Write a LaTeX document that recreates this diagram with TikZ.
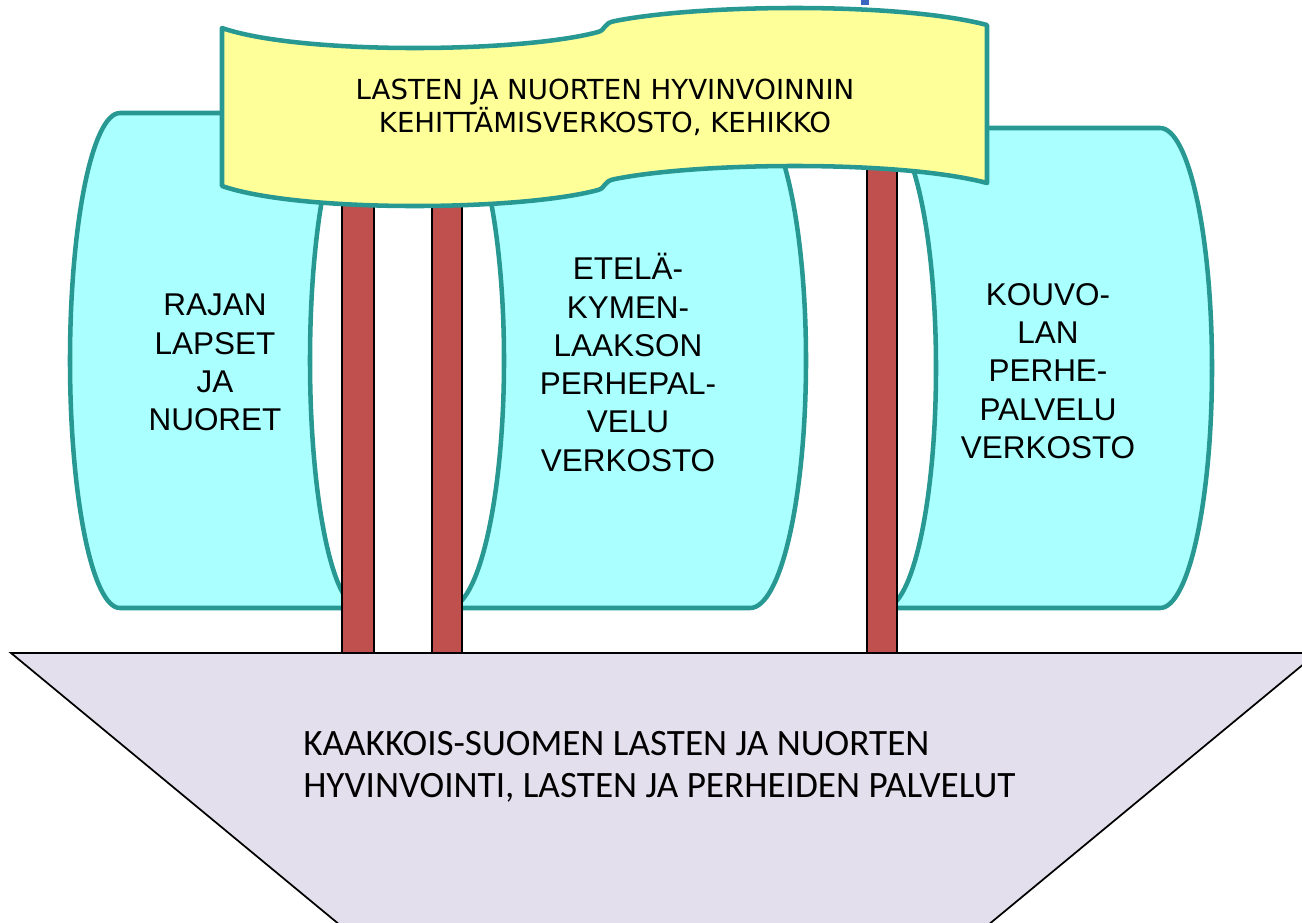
\documentclass[tikz,border=0pt]{standalone}
\usepackage{fontspec}
\setmainfont{Liberation Sans}
\newfontfamily\bannerfont{DejaVu Sans}
\newfontfamily\basefont{Carlito}
\definecolor{tealline}{RGB}{40,152,146}
\definecolor{cyanfill}{RGB}{170,255,255}
\definecolor{bannerfill}{RGB}{255,255,153}
\definecolor{barfill}{RGB}{192,80,77}
\definecolor{basefill}{RGB}{227,223,236}
\definecolor{markblue}{RGB}{58,102,192}
\tikzset{
  drum/.style={draw=tealline, fill=cyanfill, line width=3.4pt, line join=round},
  pillar/.style={draw=black, fill=barfill, line width=1.3pt},
  basebox/.style={draw=black, fill=basefill, line width=1.3pt},
  bannerbox/.style={draw=tealline, fill=bannerfill, line width=3.4pt, line join=round},
  drumtext/.style={align=center, font=\fontsize{23.6}{28.7}\selectfont, inner sep=0pt},
  bannertext/.style={align=center, font=\bannerfont\fontsize{20.7}{24.8}\selectfont, inner sep=0pt},
  basetext/.style={align=left, anchor=west, font=\basefont\fontsize{27.9}{31.6}\selectfont, inner sep=0pt}
}
\begin{document}
\begin{tikzpicture}[x=0.75pt,y=-0.75pt]
\useasboundingbox (0,0) rectangle (1302,922);
\clip (0,0) rectangle (1302,922);
% title fragment
\fill[markblue] (861,0) rectangle (869,5);
% drum 1 (convex left, concave right)
\path[drum] (120,113) -- (360,113)
  .. controls (332.4,113) and (310,223.8) .. (310,360.5)
  .. controls (310,497.2) and (332.4,608) .. (360,608)
  -- (120,608)
  .. controls (92.4,608) and (70,497.2) .. (70,360.5)
  .. controls (70,223.8) and (92.4,113) .. (120,113) -- cycle;
% drum 2 (concave left, convex right)
\path[drum] (448,113) -- (750,113)
  .. controls (780.9,113) and (806,223.8) .. (806,360.5)
  .. controls (806,497.2) and (780.9,608) .. (750,608)
  -- (448,608)
  .. controls (478.9,608) and (504,497.2) .. (504,360.5)
  .. controls (504,223.8) and (478.9,113) .. (448,113) -- cycle;
% drum 3
\path[drum] (884,128) -- (1160,128)
  .. controls (1188.7,128) and (1212,235.4) .. (1212,368)
  .. controls (1212,500.6) and (1188.7,608) .. (1160,608)
  -- (884,608)
  .. controls (912.7,608) and (936,500.6) .. (936,368)
  .. controls (936,235.4) and (912.7,128) .. (884,128) -- cycle;
% pillars
\path[pillar] (342,120) rectangle (374,653);
\path[pillar] (432,120) rectangle (462,653);
\path[pillar] (867,120) rectangle (897,653);
% base
\path[basebox] (11,653) -- (1317,653) -- (664,1193) -- cycle;
% banner
\path[bannerbox] (222,28)
  .. controls (300,55) and (520,53) .. (598,32)
  .. controls (606,30) and (603,23) .. (615,21)
  .. controls (700,4) and (900,2) .. (987,25)
  -- (987,183)
  .. controls (900,160) and (700,162) .. (615,179)
  .. controls (603,181) and (606,188) .. (598,190)
  .. controls (520,211) and (300,213) .. (222,186) -- cycle;
% texts
\node[bannertext] (banner) at (605,107.5) {LASTEN JA NUORTEN HYVINVOINNIN\\KEHITTÄMISVERKOSTO, KEHIKKO};
\node[drumtext] (raja) at (215,362.5) {RAJAN\\LAPSET\\JA\\NUORET};
\node[drumtext] (ekl) at (628,362.5) {ETELÄ-\\KYMEN-\\LAAKSON\\PERHEPAL-\\VELU\\VERKOSTO};
\node[drumtext] (kouv) at (1048,371) {KOUVO-\\LAN\\PERHE-\\PALVELU\\VERKOSTO};
\node[basetext] (base) at (303,767) {KAAKKOIS-SUOMEN LASTEN JA NUORTEN\\HYVINVOINTI, LASTEN JA PERHEIDEN PALVELUT};
\end{tikzpicture}
\end{document}
